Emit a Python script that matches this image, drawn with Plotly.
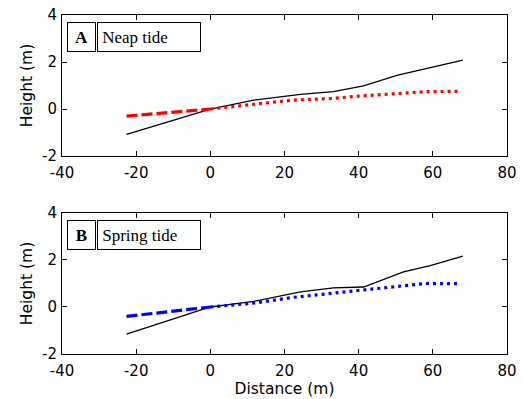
import plotly.graph_objects as go
from plotly.subplots import make_subplots

# Neap tide (A)
neap_x = [-22.6, 0, 11.7, 24.3, 33.2, 41.3, 50.3, 59.0, 68.1]
neap_h = [-1.08, 0, 0.38, 0.62, 0.74, 0.98, 1.43, 1.75, 2.08]
neap_fit_neg_x = [-22.6, 0]
neap_fit_neg_h = [-0.30, 0]
neap_fit_pos_x = [0, 12, 22.3, 33, 40, 49, 58, 67.4]
neap_fit_pos_h = [0, 0.2, 0.38, 0.45, 0.55, 0.64, 0.74, 0.75]

# Spring tide (B)
spring_x = [-22.6, 0, 11.7, 24.3, 33.2, 41.3, 52.1, 59.3, 68.1]
spring_h = [-1.15, 0, 0.24, 0.64, 0.81, 0.85, 1.49, 1.76, 2.16]
spring_fit_neg_x = [-22.6, 0]
spring_fit_neg_h = [-0.40, 0]
spring_fit_pos_x = [0, 12, 22.3, 31, 40, 49, 58, 67.4]
spring_fit_pos_h = [0, 0.17, 0.41, 0.56, 0.70, 0.85, 1.0, 0.99]

x_ticks = [-40, -20, 0, 20, 40, 60, 80]
y_ticks = [-2, 0, 2, 4]

fig = make_subplots(rows=2, cols=1, vertical_spacing=0.168)

dot = "3px,4px"
dash = "11px,4px"

panels = [
    (1, neap_x, neap_h, neap_fit_neg_x, neap_fit_neg_h, neap_fit_pos_x, neap_fit_pos_h, "red"),
    (2, spring_x, spring_h, spring_fit_neg_x, spring_fit_neg_h, spring_fit_pos_x, spring_fit_pos_h, "blue"),
]
for row, bx, bh, nx, nh, px, ph, col in panels:
    fig.add_trace(go.Scatter(x=bx, y=bh, mode="lines", line=dict(color="black", width=1.3),
                             showlegend=False), row=row, col=1)
    fig.add_trace(go.Scatter(x=nx, y=nh, mode="lines", line=dict(color=col, width=3.2, dash=dash),
                             showlegend=False), row=row, col=1)
    fig.add_trace(go.Scatter(x=px, y=ph, mode="lines", line=dict(color=col, width=3.2, dash=dot),
                             showlegend=False), row=row, col=1)

sans = "DejaVu Sans"
axis_common = dict(showgrid=False, zeroline=False, showline=True, linecolor="black", linewidth=1,
                   mirror="ticks", ticks="inside", ticklen=5, tickcolor="black", automargin=False,
                   tickfont=dict(family=sans, size=15, color="black"))
for row in (1, 2):
    fig.update_xaxes(range=[-40, 80], tickvals=x_ticks, ticktext=[str(v) for v in x_ticks],
                     ticklabelstandoff=3, row=row, col=1, **axis_common)
    fig.update_yaxes(range=[-2, 4], tickvals=y_ticks, ticktext=[str(v) for v in y_ticks],
                     ticklabelstandoff=1,
                     title=dict(text="Height (m)", font=dict(family=sans, size=15.5, color="black"),
                                standoff=5),
                     row=row, col=1, **axis_common)
fig.update_xaxes(title=dict(text="Distance (m)", font=dict(family=sans, size=15.5, color="black"),
                            standoff=0), row=2, col=1)

serif = "Liberation Serif, Times New Roman"
labels = [("x domain", "y domain", "A", "Neap tide"), ("x2 domain", "y2 domain", "B", "Spring tide")]
for xr, yr, letter, name in labels:
    fig.add_annotation(xref=xr, yref=yr, x=0.011, y=0.95, xanchor="left", yanchor="top",
                       text="<b>" + letter + "</b>", showarrow=False, align="center",
                       font=dict(family=serif, size=17, color="black"),
                       bordercolor="black", borderwidth=1, borderpad=0, width=27, height=28,
                       bgcolor="white")
    fig.add_annotation(xref=xr, yref=yr, x=0.0785, y=0.95, xanchor="left", yanchor="top",
                       text=" " + name, showarrow=False, align="left",
                       font=dict(family=serif, size=17, color="black"),
                       bordercolor="black", borderwidth=1, borderpad=0, width=102, height=28,
                       bgcolor="white")

fig.update_layout(width=523, height=399, margin=dict(l=62, r=16, t=15, b=45, autoexpand=False),
                  paper_bgcolor="white", plot_bgcolor="white")

fig.write_html("out.html", config={"displayModeBar": False},
               post_script="document.body.style.margin='0';")
